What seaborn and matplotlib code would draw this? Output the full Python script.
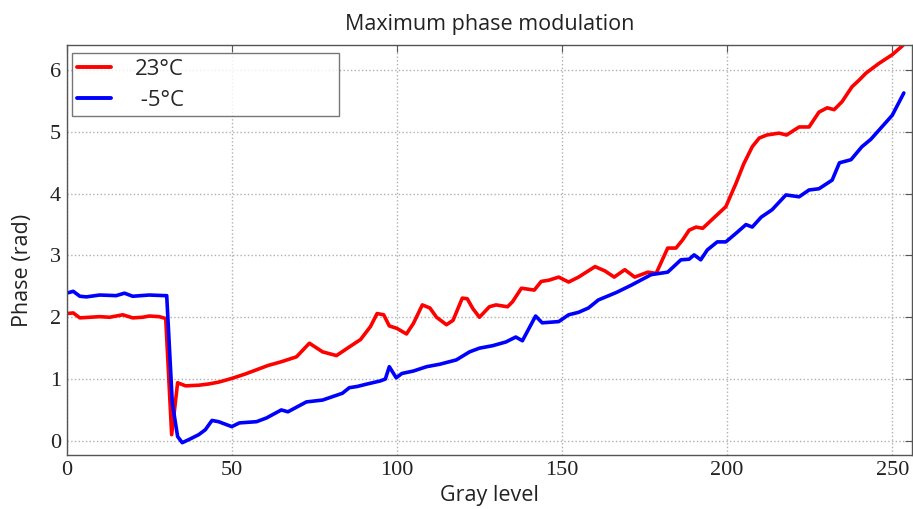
import numpy as np
import pandas as pd
import matplotlib
matplotlib.use("Agg")
import matplotlib.pyplot as plt
import seaborn as sns

# ---- data ----
gray_23 = [0, 2, 4, 7, 10, 13, 17, 20, 23, 25, 28, 30,
           31.8, 33.6, 36, 40, 43, 46, 50, 54, 57.5, 61, 65, 69.6, 73.5, 77.5, 81.7,
           85.6, 89, 92, 94, 96, 97.7, 100, 102.9, 105, 107.7, 110, 112, 115, 117,
           119.8, 121.3, 123, 125, 128, 130, 133.5, 135, 137.7, 141.6, 143.7, 146,
           149, 152, 155, 160, 163, 165.8, 169, 172, 176, 178.5, 182, 184.5, 186.5,
           188.5, 190.6, 192.6, 195, 197.6, 199.6, 202.7, 205, 207.6, 209.7, 212,
           215.7, 218, 221.8, 224.8, 227.8, 230.3, 232.4, 234.8, 237.8, 240, 242,
           246, 250, 253, 255]
phase_23 = [2.06, 2.07, 1.99, 2.0, 2.01, 2.0, 2.04, 1.99, 2.0, 2.02, 2.01, 1.98,
            0.1, 0.94, 0.89, 0.9, 0.92, 0.95, 1.01, 1.08, 1.15, 1.22, 1.28, 1.36, 1.58, 1.44, 1.38,
            1.52, 1.64, 1.85, 2.06, 2.04, 1.86, 1.82, 1.73, 1.9, 2.2, 2.15, 2.0, 1.88, 1.95,
            2.31, 2.3, 2.14, 2.0, 2.17, 2.2, 2.17, 2.25, 2.47, 2.44, 2.58, 2.6,
            2.65, 2.57, 2.65, 2.82, 2.75, 2.65, 2.77, 2.65, 2.73, 2.71, 3.12, 3.12, 3.25,
            3.41, 3.46, 3.44, 3.56, 3.69, 3.79, 4.17, 4.48, 4.76, 4.9, 4.95,
            4.98, 4.95, 5.08, 5.08, 5.32, 5.39, 5.36, 5.49, 5.73, 5.84, 5.95,
            6.11, 6.25, 6.39, 6.5]

gray_m5 = [0, 2, 4, 6, 10, 15, 17.5, 20, 25, 29.7, 30.3,
           32, 33.6, 35, 37, 40, 42, 44, 46, 50, 52.3, 57.5, 60.5, 65, 67, 72.6,
           77.5, 83.5, 85.6, 88, 91, 95, 96.5, 97.7, 99.8, 101.5, 105, 109, 113,
           118, 122, 125, 129, 133, 136, 138, 142, 144, 149, 152, 155, 158, 161,
           166.4, 171, 177, 182, 186, 188.5, 190, 192, 194, 197, 199.6, 202.7,
           205.7, 207.6, 210.3, 213.6, 217.8, 221.8, 224.8, 227.8, 231.8, 234,
           237.5, 240.8, 243.5, 246, 250, 253.5]
phase_m5 = [2.39, 2.42, 2.34, 2.33, 2.36, 2.35, 2.39, 2.34, 2.36, 2.35, 2.35,
            0.61, 0.07, -0.03, 0.02, 0.1, 0.18, 0.33, 0.31, 0.23, 0.29, 0.31, 0.37, 0.5, 0.47, 0.63,
            0.66, 0.77, 0.86, 0.88, 0.92, 0.97, 1.0, 1.2, 1.02, 1.09, 1.13, 1.2, 1.24,
            1.31, 1.44, 1.5, 1.54, 1.6, 1.68, 1.62, 2.02, 1.91, 1.93, 2.04, 2.08, 2.15, 2.28,
            2.4, 2.52, 2.69, 2.73, 2.93, 2.94, 3.01, 2.93, 3.09, 3.22, 3.22, 3.36,
            3.5, 3.46, 3.62, 3.74, 3.98, 3.95, 4.06, 4.08, 4.22, 4.5,
            4.55, 4.76, 4.88, 5.03, 5.27, 5.63]

labels = ["23°C", " -5°C"]
colors = ["#ff0000", "#0000ff"]
x_ticks = [0, 50, 100, 150, 200, 250]
y_ticks = [0, 1, 2, 3, 4, 5, 6]

df = pd.concat([
    pd.DataFrame({"Gray level": gray_23, "Phase": phase_23, "series": labels[0]}),
    pd.DataFrame({"Gray level": gray_m5, "Phase": phase_m5, "series": labels[1]}),
], ignore_index=True)

sns.set_theme(style="white")
plt.rcParams["font.family"] = ["Open Sans", "DejaVu Sans"]

fig = plt.figure(figsize=(9.13, 5.09), dpi=100)
ax = fig.add_axes([0.073, 0.106, 0.926, 0.806])

sns.lineplot(data=df, x="Gray level", y="Phase", hue="series",
             palette=dict(zip(labels, colors)), sort=False, estimator=None,
             linewidth=2.6, ax=ax)

ax.set_xlim(0, 256)
ax.set_ylim(-0.23, 6.41)
ax.set_xticks(x_ticks)
ax.set_yticks(y_ticks)
ax.grid(True, linestyle=":", color="#b0b0b0", linewidth=1.0)

for lab in ax.get_xticklabels() + ax.get_yticklabels():
    lab.set_fontfamily("Liberation Serif")
    lab.set_fontsize(16)
    lab.set_color("#222222")
ax.tick_params(direction="in", top=True, right=True, length=5, width=0.8,
               color="#555555", pad=4)

for s in ax.spines.values():
    s.set_color("#555555")
    s.set_linewidth(1.0)

ax.set_xlabel("Gray level", fontsize=15.5, labelpad=4, color="#222222")
ax.set_ylabel("Phase (rad)", fontsize=15.5, color="#222222")
ax.yaxis.set_label_coords(-0.040, 0.45)
ax.set_title("Maximum phase modulation", fontsize=15.5, pad=11, color="#222222")

leg = ax.legend(loc="upper left", bbox_to_anchor=(0.006, 0.98, 0.316, 0.0),
                mode="expand", fontsize=16, frameon=True, fancybox=False,
                handlelength=1.5, handletextpad=1.1, borderaxespad=0.0,
                labelspacing=0.45, borderpad=0.25)
leg.get_frame().set_edgecolor("#555555")
leg.get_frame().set_linewidth(1.0)
for line in leg.get_lines():
    line.set_linewidth(2.8)

fig.savefig("out.png", dpi=100)
